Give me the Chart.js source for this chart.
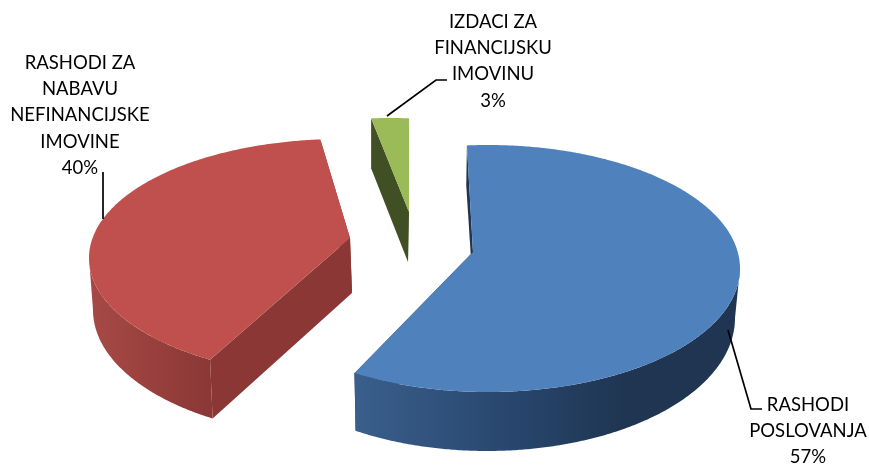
<!DOCTYPE html>
<html>
<head>
<meta charset="utf-8">
<style>html,body{margin:0;padding:0;background:#fff}canvas{display:block}</style>
<script src="https://cdn.jsdelivr.net/npm/chart.js@4"></script>
</head>
<body>
<canvas id="c" width="869" height="466"></canvas>
<script>
const categories = ["RASHODI POSLOVANJA", "RASHODI ZA NABAVU NEFINANCIJSKE IMOVINE", "IZDACI ZA FINANCIJSKU IMOVINU"];
const values = [57, 40, 3];
const labelLines = [["RASHODI", "POSLOVANJA"], ["RASHODI ZA", "NABAVU", "NEFINANCIJSKE", "IMOVINE"], ["IZDACI ZA", "FINANCIJSKU", "IMOVINU"]];
const topColors = ["#4F81BD", "#C0504D", "#9BBB59"];
const edgeColors = ["#1F3552", "#8A3735", "#404F24"];
const rimStops = [
  [[355, "#3A5F8C"], [500, "#294870"], [625, "#1F3552"]],
  [[92, "#A64946"], [214, "#8A3735"]],
  [[371, "#404F24"], [409, "#404F24"]]
];

const deg = Math.PI / 180;
// Perspective fit of each exploded slice: rim ellipses and the slice's tip
const views = [
  {top:{cx:488,cy:268.5,rx:252,ry:123.5}, bot:{cx:487,cy:318,rx:248,ry:133}, tip:[473,252], tipBot:[474,305], start:-4.8, stretch:1.0565},
  {top:{cx:341,cy:258,rx:252,ry:119},     bot:{cx:342,cy:310,rx:249,ry:127}, tip:[350,238], tipBot:[352,293], start:211.3, stretch:1},
  {top:{cx:390,cy:237,rx:252,ry:119},     bot:{cx:390,cy:287,rx:252,ry:119}, tip:[409,212], tipBot:[408,262], start:-4.3, stretch:0.8}
];
const labelLayout = [
  {x:808, y:404, lead:[[728,330],[751,409],[762,409]]},
  {x:80,  y:62,  lead:[[103,172],[103,219]]},
  {x:493, y:21,  lead:[[387,116],[436,80],[447,80]]}
];
const lineHeight = 26.2;

function onRim(e, t){ return [e.cx + e.rx*Math.sin(t), e.cy - e.ry*Math.cos(t)]; }
function poly(ctx, pts, fill){
  ctx.beginPath();
  pts.forEach((p,i)=> i ? ctx.lineTo(p[0],p[1]) : ctx.moveTo(p[0],p[1]));
  ctx.closePath();
  ctx.fillStyle = fill;
  ctx.fill();
}
function samples(t0, t1){
  const n = Math.max(2, Math.ceil(Math.abs(t1-t0)/(0.5*deg)));
  const out = [];
  for(let i=0;i<=n;i++) out.push(t0+(t1-t0)*i/n);
  return out;
}

// Every slice is still a Chart.js arc: its angles come from the controller.
Chart.ArcElement.prototype.draw = function(ctx){
  const idx = this.$context.dataIndex;
  const v = views[idx];
  const t0 = v.start*deg;
  const t1 = t0 + (this.endAngle - this.startAngle)*v.stretch;
  ctx.save();
  // radial faces
  poly(ctx,[onRim(v.top,t0),v.tip,v.tipBot,onRim(v.bot,t0)],edgeColors[idx]);
  poly(ctx,[onRim(v.top,t1),v.tip,v.tipBot,onRim(v.bot,t1)],edgeColors[idx]);
  // outer wall (front half only)
  const a = Math.max(t0, 90*deg), b = Math.min(t1, 270*deg);
  if(b > a){
    const stops = rimStops[idx];
    const x0 = stops[0][0], x1 = stops[stops.length-1][0];
    const g = ctx.createLinearGradient(x0,0,x1,0);
    stops.forEach(s=>g.addColorStop((s[0]-x0)/(x1-x0),s[1]));
    const ts = samples(a,b);
    poly(ctx, ts.map(t=>onRim(v.top,t)).concat(ts.slice().reverse().map(t=>onRim(v.bot,t))), g);
  }
  // top face
  poly(ctx,[v.tip].concat(samples(t0,t1).map(t=>onRim(v.top,t))),topColors[idx]);
  ctx.restore();
};

const calloutPlugin = {
  id:"callouts",
  afterDraw(chart){
    const ctx = chart.ctx;
    const total = values.reduce((s,x)=>s+x,0);
    ctx.save();
    ctx.font = "18.5px Lato, Carlito, sans-serif";
    ctx.textAlign = "center";
    ctx.textBaseline = "middle";
    ctx.fillStyle = "#000";
    ctx.strokeStyle = "#000";
    ctx.lineWidth = 1.7;
    labelLayout.forEach((l,i)=>{
      ctx.beginPath();
      l.lead.forEach((p,j)=> j ? ctx.lineTo(p[0],p[1]) : ctx.moveTo(p[0],p[1]));
      ctx.stroke();
      const lines = labelLines[i].concat([Math.round(values[i]/total*100)+"%"]);
      lines.forEach((s,j)=>ctx.fillText(s,l.x,l.y+1+j*lineHeight));
    });
    ctx.restore();
  }
};

new Chart(document.getElementById("c"),{
  type:"pie",
  data:{labels:categories,datasets:[{data:values,backgroundColor:topColors,borderWidth:0}]},
  options:{
    responsive:false,animation:false,
    layout:{padding:0},
    plugins:{legend:{display:false},tooltip:{enabled:false}}
  },
  plugins:[calloutPlugin]
});
</script>
</body>
</html>
